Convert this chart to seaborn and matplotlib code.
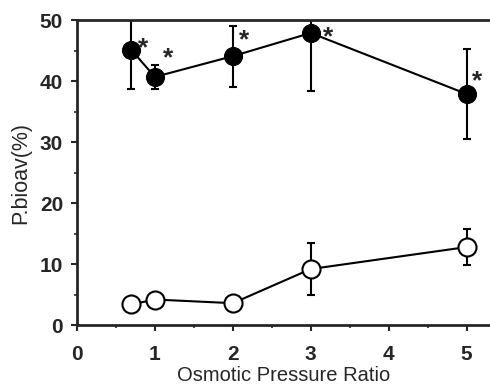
import numpy as np
import pandas as pd
import matplotlib
matplotlib.use("Agg")
import matplotlib.pyplot as plt
import seaborn as sns
from matplotlib.ticker import MultipleLocator

# data
ratio = [0.7, 1, 2, 3, 5]
treated_mean = [45.1, 40.7, 44.1, 47.9, 37.9]
treated_err  = [6.4, 2.0, 5.0, 9.5, 7.4]
control_mean = [3.4, 4.2, 3.6, 9.2, 12.8]
control_err  = [0.4, 0.4, 1.2, 4.2, 3.0]

# where the "*" marks sit relative to each filled point
star_dx = [0.15, 0.17, 0.15, 0.22, 0.13]
star_dy = [1.1, 3.9, 3.4, 0.1, 2.8]

df = pd.DataFrame({
    "ratio": ratio * 2,
    "bioav": treated_mean + control_mean,
    "group": ["treated"] * 5 + ["control"] * 5,
})

sns.set_style("ticks")
plt.rcParams["font.family"] = ["Liberation Sans", "DejaVu Sans"]

fig = plt.figure(figsize=(4.9, 3.88), dpi=100)
ax = fig.add_axes([0.157, 0.162, 0.843, 0.786])

# error bars first, points on top
ax.errorbar(ratio, treated_mean, yerr=treated_err, fmt="none", ecolor="black",
            elinewidth=1.5, capsize=3, capthick=1.5, zorder=2)
ax.errorbar(ratio, control_mean, yerr=control_err, fmt="none", ecolor="black",
            elinewidth=1.5, capsize=3, capthick=1.5, zorder=2)

sns.lineplot(data=df[df.group == "treated"], x="ratio", y="bioav", ax=ax,
             color="black", lw=1.5, marker="o", markersize=13,
             markerfacecolor="black", markeredgecolor="black", zorder=3)
sns.lineplot(data=df[df.group == "control"], x="ratio", y="bioav", ax=ax,
             color="black", lw=1.5, marker="o", markersize=13,
             markerfacecolor="white", markeredgecolor="black",
             markeredgewidth=1.5, zorder=3)

# significance marks
for x, y, dx, dy in zip(ratio, treated_mean, star_dx, star_dy):
    ax.text(x + dx, y + dy - 0.8, "*", fontsize=19, fontweight="bold",
            ha="center", va="center")

ax.set_xlim(0, 5.3)
ax.set_ylim(0, 50)
ax.set_xticks([0, 1, 2, 3, 4, 5])
ax.set_yticks([0, 10, 20, 30, 40, 50])
ax.xaxis.set_minor_locator(MultipleLocator(0.5))
ax.yaxis.set_minor_locator(MultipleLocator(5))
ax.tick_params(which="major", direction="out", length=4, width=1.5,
               labelsize=15)
ax.tick_params(axis="x", which="major", pad=10)
ax.tick_params(axis="y", which="major", pad=6)
ax.tick_params(which="minor", direction="out", length=2.5, width=1.2)
ax.tick_params(axis="x", which="both", top=False)
for lab in ax.get_xticklabels() + ax.get_yticklabels():
    lab.set_fontweight("bold")

ax.set_xlabel("Osmotic Pressure Ratio", fontsize=14.5, labelpad=2)
ax.set_ylabel("P.bioav(%)", fontsize=15.5, labelpad=6)

ax.spines["right"].set_visible(False)
for s in ["left", "bottom", "top"]:
    ax.spines[s].set_linewidth(2)

plt.savefig("out.png", dpi=100)
plt.close()
